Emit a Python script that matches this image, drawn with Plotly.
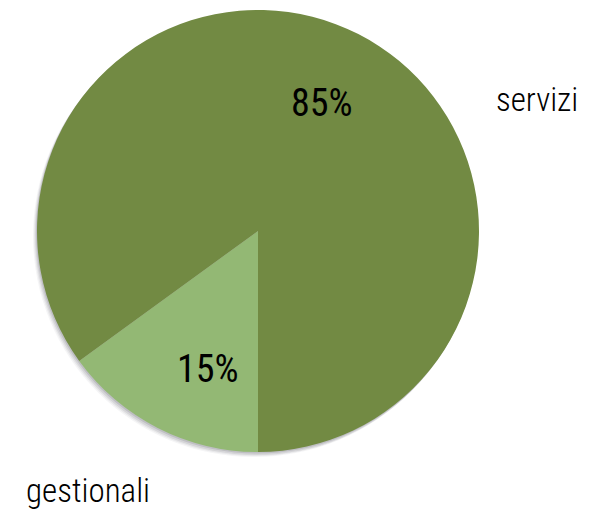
import plotly.graph_objects as go

labels = ["gestionali", "servizi"]
values = [15, 85]
colors = ["#93B874", "#728A43"]

FONT = "Roboto Condensed, Liberation Sans Narrow, Roboto, sans-serif"

W, H = 599, 519
OFF = 8  # page body margin
cx, cy, r = 258 - OFF, 231 - OFF, 221


def dom(dx=0.0, dy=0.0):
    return dict(x=[(cx - r + dx) / W, (cx + r + dx) / W],
                y=[1 - (cy + r + dy) / H, 1 - (cy - r + dy) / H])


fig = go.Figure()

# soft drop shadow (down-left), a few stacked translucent discs
for dx, dy, a in [(-4, 5, 0.05), (-3, 4, 0.07), (-2, 3, 0.10), (-1, 1.5, 0.14)]:
    fig.add_trace(
        go.Pie(
            values=[sum(values)],
            marker=dict(colors=[f"rgba(60,60,70,{a})"], line=dict(width=0)),
            textinfo="none",
            hoverinfo="skip",
            domain=dom(dx, dy),
            showlegend=False,
            sort=False,
        )
    )

fig.add_trace(
    go.Pie(
        labels=labels,
        values=values,
        sort=False,
        direction="clockwise",
        rotation=180,
        marker=dict(colors=colors, line=dict(width=0)),
        textinfo="none",
        domain=dom(),
        hoverinfo="label+percent",
        showlegend=False,
    )
)

# percent labels inside slices (screen positions of the text)
pct_pos = [(208, 369), (322, 103)]
total = sum(values)
for v, (px, py) in zip(values, pct_pos):
    fig.add_annotation(x=(px - OFF) / W, y=1 - (py - OFF) / H, xref="paper", yref="paper",
                       text=f"{v / total:.0%}", showarrow=False,
                       xanchor="center", yanchor="middle",
                       font=dict(family=FONT, size=38, color="black", weight=400))

# outside category labels
lab_pos = [(88, 490), (537, 99)]
for lab, (px, py) in zip(labels, lab_pos):
    fig.add_annotation(x=(px - OFF) / W, y=1 - (py - OFF) / H, xref="paper", yref="paper",
                       text=lab, showarrow=False, xanchor="center", yanchor="middle",
                       font=dict(family=FONT, size=33, color="black", weight=300))

fig.update_layout(
    width=W,
    height=H,
    margin=dict(l=0, r=0, t=0, b=0),
    paper_bgcolor="white",
    plot_bgcolor="white",
)

fig.write_html("out.html")
